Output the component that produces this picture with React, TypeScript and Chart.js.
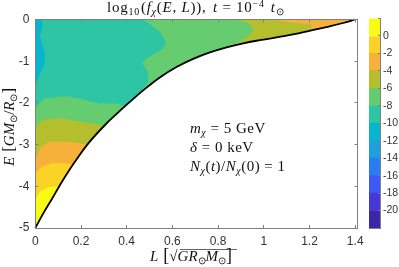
import React, { useEffect, useRef } from "react";
import { Chart, registerables } from "chart.js";
Chart.register(...registerables);

type P = [number, number];

const boundaryCurve: P[] = [[0,-5],[.035,-4.65],[.072,-4.31],[.108,-3.97],[.144,-3.65],[.181,-3.35],[.232,-2.97],[.305,-2.53],[.37,-2.192],[.414,-1.976],[.472,-1.70],[.545,-1.39],[.618,-1.14],[.691,-.945],[.764,-.79],[.837,-.667],[.91,-.57],[.983,-.495],[1.055,-.43],[1.128,-.355],[1.2,-.27],[1.274,-.18],[1.347,-.084],[1.4,0]];
const outsideCorners: P[] = [[1.41,0],[1.41,-5],[0,-5]];

const bandGreen: P[] = [[0,0],[1.41,0],[1.41,-5],[0,-5]];
const bandTeal: P[] = [[0,0],[.465,0],[.487,-.056],[.545,-.296],[.571,-.535],[.56,-.697],[.487,-.938],[.468,-1.054],[.494,-1.254],[.494,-1.494],[.458,-1.76],[.5,-2.2],[.349,-2.017],[.283,-2.017],[.24,-1.96],[.195,-1.897],[.16,-1.87],[.15,-1.82],[.14,-1.86],[.122,-1.84],[.08,-1.87],[.042,-1.897],[.018,-2.0],[0,-2.137]];
const bandCyan: P[] = [[0,0],[.027,0],[.032,-.17],[.02,-.41],[.042,-.81],[.042,-1.05],[.021,-1.29],[0,-1.62]];
const bandOliveUpper: P[] = [[.88,0],[.915,-.05],[.946,-.14],[.953,-.28],[.924,-.44],[.87,-.6],[.822,-.72],[.75,-.9],[1.41,-.9],[1.41,0]];
const bandOrangeUpper: P[] = [[1.026,0],[1.143,-.084],[1.208,-.12],[1.208,-.24],[1.187,-.33],[1.41,-.4],[1.41,0]];
const bandOliveLower: P[] = [[0,-2.65],[.012,-2.5],[.035,-2.41],[.06,-2.38],[.09,-2.39],[.115,-2.35],[.137,-2.4],[.239,-2.49],[.305,-2.55],[.4,-2.6],[.4,-5],[0,-5]];
const bandOrangeLower: P[] = [[0,-3.37],[.02,-3.09],[.057,-2.93],[.144,-2.93],[.239,-3.01],[.3,-3.05],[.3,-5],[0,-5]];
const bandGoldLower: P[] = [[0,-3.69],[.028,-3.53],[.072,-3.45],[.13,-3.45],[.181,-3.49],[.25,-3.5],[.25,-5],[0,-5]];
const bandYellowLower: P[] = [[0,-4.33],[.02,-4.13],[.057,-4.02],[.108,-3.99],[.14,-3.98],[.14,-5],[0,-5]];

const levelColors = ["#3e26a8","#4538d8","#3f59f5","#2b7cf3","#1e9fdf","#06b5cf","#2ec5a5","#66cc70","#b5bf2e","#f5b13a","#fbd326","#f9fb15"];
const levelEdges = [-22,-20,-18,-16,-14,-12,-10,-8,-6,-4,-2,0,2];
const C = { cyan: "#06b5cf", teal: "#2ec5a5", green: "#66cc70", olive: "#b5bf2e", orange: "#f5b13a", gold: "#fbd326", yellow: "#f9fb15" };

const xTickStep = 0.2;
const yTickStep = 1;

const toXY = (p: P[]) => p.map(([x, y]) => ({ x, y }));
const SERIF = '"Liberation Serif"';
const SANS = '"Liberation Sans"';
const INK = "#333333";
const AXIS = "#808080";

type Run = { t: string; i?: boolean; s?: number; dy?: number; gap?: number };

function drawRuns(ctx: CanvasRenderingContext2D, x: number, y: number, runs: Run[], size: number, rot = 0, spacing = 0) {
  ctx.save();
  ctx.translate(x, y);
  ctx.rotate(rot);
  ctx.fillStyle = "#111";
  ctx.textBaseline = "alphabetic";
  ctx.textAlign = "left";
  (ctx as any).letterSpacing = `${spacing}px`;
  let cx = 0;
  for (const r of runs) {
    cx += r.gap || 0;
    ctx.font = `${r.i ? "italic " : ""}${r.s || size}px ${SERIF}`;
    ctx.fillText(r.t, cx, r.dy || 0);
    cx += ctx.measureText(r.t).width;
  }
  ctx.restore();
  return cx;
}

const polygonPlugin = {
  id: "polygonFill",
  beforeDatasetDraw(chart: any, args: any) {
    const ds = chart.data.datasets[args.index];
    if (!ds.polygon) return;
    const ctx = chart.ctx;
    const a = chart.chartArea;
    ctx.save();
    ctx.beginPath();
    ctx.rect(a.left, a.top, a.right - a.left, a.bottom - a.top);
    ctx.clip();
    ctx.beginPath();
    args.meta.data.forEach((pt: any, i: number) => (i ? ctx.lineTo(pt.x, pt.y) : ctx.moveTo(pt.x, pt.y)));
    ctx.closePath();
    ctx.fillStyle = ds.polygon;
    ctx.fill();
    ctx.restore();
  },
};

const textPlugin = {
  id: "mathText",
  afterDraw(chart: any) {
    const ctx = chart.ctx as CanvasRenderingContext2D;
    const sub = { s: 10, dy: 3 };
    drawRuns(ctx, 107, 12, [
      { t: "log" }, { t: "10", ...sub }, { t: "(", gap: 1 }, { t: "f", i: true }, { t: "χ", i: true, ...sub }, { t: "(" }, { t: "E", i: true },
      { t: ", " }, { t: "L", i: true }, { t: ")), " }, { t: "t", i: true, gap: 2 }, { t: " = 10" }, { t: "−4", s: 10, dy: -5 }, { t: "t", i: true, gap: 6 }, { t: "⊙", ...sub },
    ], 15, 0, 0.75);
    drawRuns(ctx, 190, 133, [{ t: "m", i: true }, { t: "χ", i: true, ...sub }, { t: " = 5 GeV" }], 15, 0, 0.5);
    drawRuns(ctx, 190, 152, [{ t: "δ", i: true }, { t: " = 0 keV" }], 15, 0, 0.5);
    drawRuns(ctx, 190, 171, [{ t: "N", i: true }, { t: "χ", i: true, ...sub }, { t: "(" }, { t: "t", i: true }, { t: ")/" }, { t: "N", i: true }, { t: "χ", i: true, ...sub }, { t: "(0) = 1" }], 15, 0, 0.5);
    // x label
    drawRuns(ctx, 150, 261, [{ t: "L", i: true }, { t: "[", gap: 5, s: 18 }, { t: "√", s: 15 }, { t: "GR", i: true }, { t: "⊙", ...sub }, { t: "M", i: true }, { t: "⊙", ...sub }, { t: "]", s: 18 }], 15);
    ctx.save();
    ctx.strokeStyle = "#222";
    ctx.lineWidth = 0.7;
    ctx.beginPath();
    ctx.moveTo(180, 249.5);
    ctx.lineTo(237, 249.5);
    ctx.stroke();
    ctx.restore();
    // y label
    drawRuns(ctx, 14, 166, [{ t: "E", i: true }, { t: "[", gap: 5, s: 17 }, { t: "GM", i: true }, { t: "⊙", ...sub }, { t: "/" }, { t: "R", i: true }, { t: "⊙", ...sub }, { t: "]", s: 17 }], 15, -Math.PI / 2);
  },
};

const fit = (size: number, horizontal: boolean) => (s: any) => {
  if (horizontal) s.height = size;
  else s.width = size;
};

export default function App() {
  const mainRef = useRef<HTMLCanvasElement>(null);
  const barRef = useRef<HTMLCanvasElement>(null);
  useEffect(() => {
    document.body.style.margin = "0";
    const layers: [P[], string][] = [
      [bandGreen, C.green], [bandTeal, C.teal], [bandCyan, C.cyan], [bandOliveUpper, C.olive], [bandOrangeUpper, C.orange],
      [bandOliveLower, C.olive], [bandOrangeLower, C.orange], [bandGoldLower, C.gold], [bandYellowLower, C.yellow],
      [[...boundaryCurve, ...outsideCorners], "#ffffff"],
    ];
    const n = layers.length + 1;
    const common = { border: { color: AXIS, width: 1, z: 1 }, grid: { drawOnChartArea: false, drawTicks: true, tickLength: -3, color: AXIS, z: 1 } };
    const tickFont = { family: SANS, size: 12 };
    const main = new Chart(mainRef.current!, {
      type: "scatter",
      data: {
        datasets: [
          ...layers.map(([pts, col], i) => ({
            data: toXY(pts), polygon: col, backgroundColor: col, borderColor: col, showLine: false, pointRadius: 0, order: n - i, xAxisID: "x", yAxisID: "y",
          })),
          { data: toXY(boundaryCurve), showLine: true, tension: 0.4, borderColor: "#000", borderWidth: 1.8, pointRadius: 0, order: 0, xAxisID: "x", yAxisID: "y", clip: false },
        ] as any,
      },
      plugins: [polygonPlugin, textPlugin],
      options: {
        animation: false, responsive: false, events: [],
        layout: { padding: 0 },
        plugins: { legend: { display: false }, tooltip: { enabled: false } },
        scales: {
          x: { type: "linear", position: "bottom", min: 0, max: 1.41, afterFit: fit(39, true), ...common,
            ticks: { stepSize: xTickStep, includeBounds: false, maxRotation: 0, color: INK, font: tickFont, padding: 9, autoSkip: false, callback: (v: any) => String(Math.round(v * 10) / 10) } },
          y: { type: "linear", position: "left", min: -5, max: 0, afterFit: fit(35.3, false), ...common,
            ticks: { stepSize: yTickStep, color: INK, font: tickFont, padding: 9, callback: (v: any) => String(v) } },
          x2: { type: "linear", position: "top", min: 0, max: 1.41, afterFit: fit(19.5, true), ...common,
            ticks: { stepSize: xTickStep, includeBounds: false, display: false } },
          y2: { type: "linear", position: "right", min: -5, max: 0, afterFit: fit(41.5, false), ...common,
            ticks: { stepSize: yTickStep, display: false } },
        },
      } as any,
    });
    const bar = new Chart(barRef.current!, {
      type: "bar",
      data: {
        labels: ["f"],
        datasets: levelColors.map((c, i) => ({ data: [[levelEdges[i], levelEdges[i + 1]]], backgroundColor: c, borderWidth: 0, barPercentage: 1, categoryPercentage: 1, grouped: false })) as any,
      },
      options: {
        animation: false, responsive: false, events: [],
        layout: { padding: { left: 369, top: 18.5, bottom: 39 } },
        plugins: { legend: { display: false }, tooltip: { enabled: false } },
        scales: {
          x: { display: true, afterFit: fit(0, true), ticks: { display: false }, border: { color: AXIS, z: 1 }, grid: { display: false } },
          y: { type: "linear", position: "right", min: -22, max: 2, afterFit: fit(19, false), border: { color: AXIS, z: 1 },
            grid: { drawOnChartArea: false, drawTicks: true, tickLength: -2, color: AXIS, z: 1 },
            ticks: { stepSize: 2, color: INK, font: { family: SANS, size: 10.5 }, padding: 5, callback: (v: any) => (v === 2 || v === -22 ? "" : String(v)) } },
        },
      } as any,
    });
    return () => { main.destroy(); bar.destroy(); };
  }, []);
  const st: React.CSSProperties = { position: "absolute", left: 0, top: 0 };
  return (
    <div style={{ position: "relative", width: 399, height: 267 }}>
      <canvas ref={mainRef} width={399} height={267} style={st} />
      <canvas ref={barRef} width={399} height={267} style={st} />
    </div>
  );
}
